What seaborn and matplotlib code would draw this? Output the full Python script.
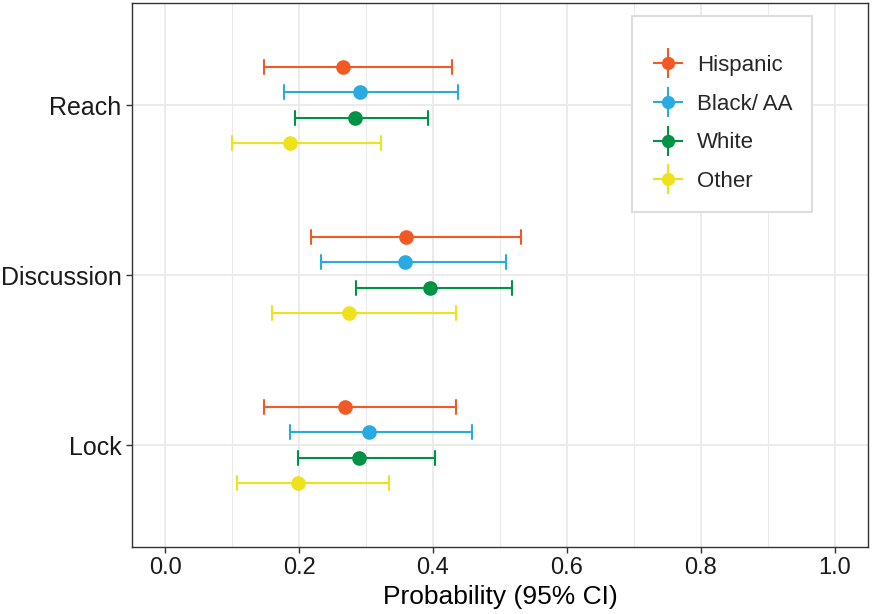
import numpy as np
import pandas as pd
import matplotlib
matplotlib.use("Agg")
import matplotlib.pyplot as plt
import seaborn as sns
from matplotlib.lines import Line2D
from matplotlib.legend_handler import HandlerTuple
from matplotlib.ticker import MultipleLocator

# data
measures = ["Reach", "Discussion", "Lock"]
groups = ["Hispanic", "Black/ AA", "White", "Other"]
colors = ["#F15A24", "#29ABE2", "#009245", "#EDE21B"]

# rows = measures, columns = groups
est = [[0.265, 0.291, 0.283, 0.187],
       [0.360, 0.358, 0.396, 0.275],
       [0.268, 0.305, 0.289, 0.198]]
lo = [[0.148, 0.178, 0.194, 0.099],
      [0.218, 0.232, 0.285, 0.159],
      [0.147, 0.186, 0.198, 0.107]]
hi = [[0.429, 0.437, 0.393, 0.323],
      [0.532, 0.509, 0.518, 0.435],
      [0.435, 0.458, 0.403, 0.334]]

# long table: lo / est / hi per cell -> median gives est, min/max gives CI
rows = []
for i, m in enumerate(measures):
    for j, g in enumerate(groups):
        for v in (lo[i][j], est[i][j], hi[i][j]):
            rows.append({"measure": m, "group": g, "prob": v})
df = pd.DataFrame(rows)

sns.set_theme(style="white")
plt.rcParams['font.family'] = ['Liberation Sans', 'DejaVu Sans']

fig, ax = plt.subplots(figsize=(8.73, 6.14), dpi=100)
fig.subplots_adjust(left=0.151, right=0.9943, top=0.995, bottom=0.109)

sns.pointplot(data=df, x="prob", y="measure", hue="group",
              order=measures, hue_order=groups, palette=colors,
              estimator="median", errorbar=lambda v: (v.min(), v.max()),
              dodge=0.45, linestyle="none", markers="o", markersize=8.5,
              capsize=0.082, err_kws={"linewidth": 1.5},
              orient="h", legend=False, ax=ax)

ax.set_xlim(-0.05, 1.05)
ax.set_ylim(2.6, -0.6)
ax.set_xticks([0, 0.2, 0.4, 0.6, 0.8, 1.0])
ax.set_xticklabels(["0.0", "0.2", "0.4", "0.6", "0.8", "1.0"])
ax.xaxis.set_minor_locator(MultipleLocator(0.1))
ax.set_axisbelow(True)
ax.grid(which='major', axis='both', color='#EBEBEB', linewidth=1.4)
ax.grid(which='minor', axis='x', color='#EBEBEB', linewidth=0.8)

ax.set_xlabel("Probability (95% CI)", fontsize=19, color='black', labelpad=4)
ax.set_ylabel("")

for s in ax.spines.values():
    s.set_visible(True)
    s.set_color('#333333')
    s.set_linewidth(1.0)
ax.tick_params(which='major', length=4, width=1, color='#333333',
               labelsize=17, labelcolor='#1A1A1A', left=True, bottom=True)
ax.tick_params(axis='y', labelsize=18)
ax.tick_params(which='minor', length=0)

handles = []
for c in colors:
    cross = Line2D([], [], color=c, marker='+', markersize=22,
                   markeredgewidth=1.5, linestyle='none')
    dot = Line2D([], [], color=c, marker='o', markersize=8.5, linestyle='none')
    handles.append((cross, dot))

# tiny blank title gives the extra space above the first key, as in ggplot
leg = ax.legend(handles, groups, handler_map={tuple: HandlerTuple(ndivide=1)},
                loc='upper left', bbox_to_anchor=(0.68, 0.976),
                borderaxespad=0, fontsize=16, handlelength=1.4,
                labelspacing=0.8, borderpad=0.9, handletextpad=0.6,
                title=" ", title_fontsize=1,
                fancybox=False, framealpha=1, edgecolor='#DDDDDD')
leg.get_frame().set_linewidth(1.5)

plt.savefig("out.png", dpi=100)
